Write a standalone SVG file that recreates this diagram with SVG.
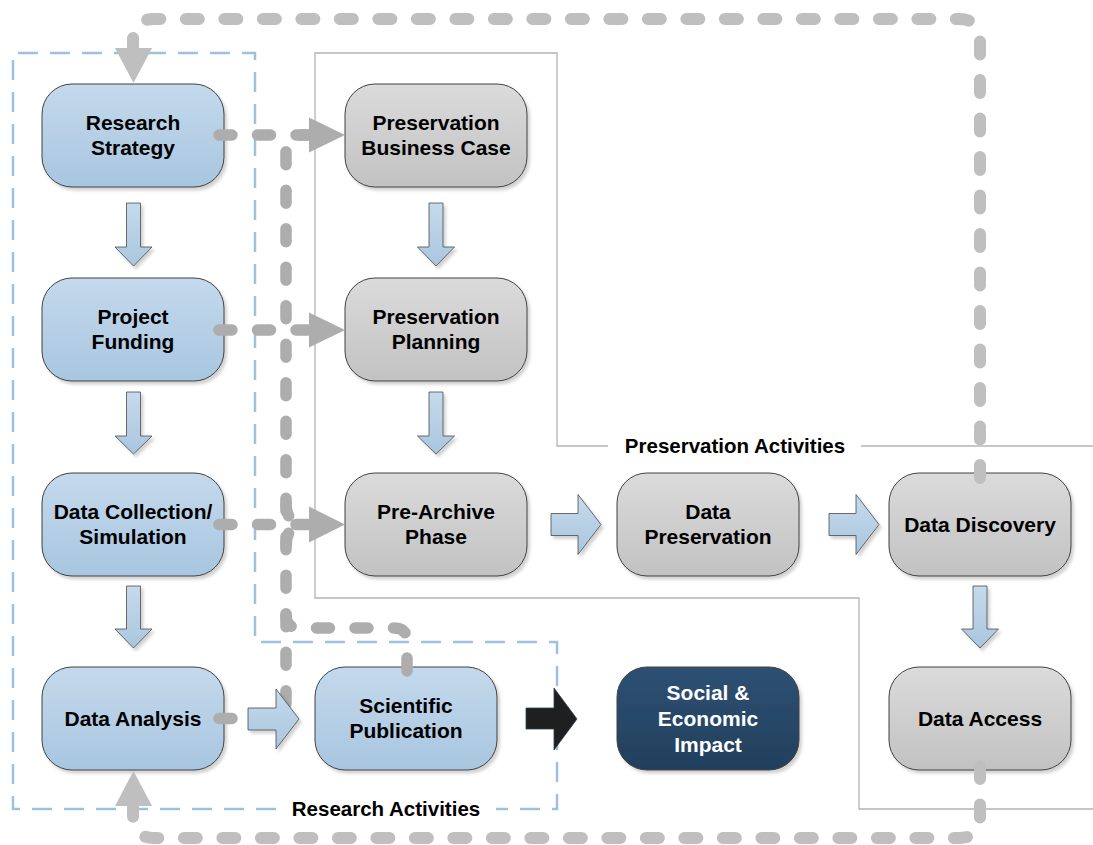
<svg xmlns="http://www.w3.org/2000/svg" width="1093" height="845" viewBox="0 0 1093 845">
<defs>
<linearGradient id="gBlue" x1="0" y1="0" x2="0" y2="1"><stop offset="0" stop-color="#c4d9ec"/><stop offset="1" stop-color="#a8c6e0"/></linearGradient>
<linearGradient id="gGray" x1="0" y1="0" x2="0" y2="1"><stop offset="0" stop-color="#dbdbdb"/><stop offset="1" stop-color="#c2c2c2"/></linearGradient>
<linearGradient id="gDark" x1="0" y1="0" x2="0" y2="1"><stop offset="0" stop-color="#2d5174"/><stop offset="1" stop-color="#223f5c"/></linearGradient>
<linearGradient id="gArrow" x1="0" y1="0" x2="0" y2="1"><stop offset="0" stop-color="#c6daec"/><stop offset="1" stop-color="#a9c6df"/></linearGradient>
<filter id="sh" x="-10%" y="-10%" width="125%" height="130%"><feDropShadow dx="2.5" dy="3" stdDeviation="1.5" flood-color="#000" flood-opacity="0.18"/></filter>
</defs>
<style>
.box{stroke:#404040;stroke-width:1;filter:url(#sh)}
.blue{fill:url(#gBlue)}
.gray{fill:url(#gGray)}
.dark{fill:url(#gDark)}
.t{font-family:"Liberation Sans",Arial,sans-serif;font-weight:bold;font-size:21px;text-anchor:middle;fill:#000}
.tw{fill:#fff}
.lbl{font-family:"Liberation Sans",Arial,sans-serif;font-weight:bold;font-size:20.5px;text-anchor:middle;fill:#000}
.loop{fill:none;stroke:#bfbfbf;stroke-width:12;stroke-linecap:round;stroke-dasharray:13 25.5}
.inner{fill:none;stroke:#adadad;stroke-width:11.5;stroke-linecap:round;stroke-dasharray:13 25.5}
.ahL{fill:#bfbfbf}
.ahI{fill:#adadad}
.barr{fill:url(#gArrow);stroke:#4a4a4a;stroke-width:0.8;filter:url(#sh)}
.karr{fill:#1f1f1f;stroke:#2b3f55;stroke-width:0.8}
.resc{fill:none;stroke:#9fc0de;stroke-width:2.5;stroke-dasharray:20 12}
.presc{fill:none;stroke:#b4b4b4;stroke-width:1.3}
</style>

<g id="containers">
<path class="presc" d="M608,446 H557 V53 H315 V598 H859 V809 H1093"/>
<path class="presc" d="M861,446 H1093"/>
<path class="resc" d="M276,809 H13 V53 H255 V642 H557 V809 H496"/>
<text class="lbl" x="735" y="453">Preservation Activities</text>
<text class="lbl" x="386" y="816">Research Activities</text>
</g>

<g id="n-research-strategy"><rect class="box blue" x="42" y="84" width="182" height="103" rx="30"/><text class="t" x="133" y="129.5">Research</text><text class="t" x="133" y="154.5">Strategy</text></g>
<g id="n-project-funding"><rect class="box blue" x="42" y="278" width="182" height="103" rx="30"/><text class="t" x="133" y="323.5">Project</text><text class="t" x="133" y="348.5">Funding</text></g>
<g id="n-data-collection"><rect class="box blue" x="42" y="473" width="182" height="103" rx="30"/><text class="t" x="133" y="518.5">Data Collection/</text><text class="t" x="133" y="543.5">Simulation</text></g>
<g id="n-data-analysis"><rect class="box blue" x="42" y="667" width="182" height="103" rx="30"/><text class="t" x="133" y="726">Data Analysis</text></g>
<g id="n-scientific-publication"><rect class="box blue" x="315" y="667" width="182" height="103" rx="30"/><text class="t" x="406" y="712.5">Scientific</text><text class="t" x="406" y="737.5">Publication</text></g>
<g id="n-social-impact"><rect class="box dark" x="617" y="667" width="182" height="103" rx="30"/><text class="t tw" x="708" y="700">Social &amp;</text><text class="t tw" x="708" y="726">Economic</text><text class="t tw" x="708" y="751.5">Impact</text></g>
<g id="n-preservation-business-case"><rect class="box gray" x="345" y="84" width="182" height="103" rx="30"/><text class="t" x="436" y="129.5">Preservation</text><text class="t" x="436" y="154.5">Business Case</text></g>
<g id="n-preservation-planning"><rect class="box gray" x="345" y="278" width="182" height="103" rx="30"/><text class="t" x="436" y="323.5">Preservation</text><text class="t" x="436" y="348.5">Planning</text></g>
<g id="n-pre-archive"><rect class="box gray" x="345" y="473" width="182" height="103" rx="30"/><text class="t" x="436" y="518.5">Pre-Archive</text><text class="t" x="436" y="543.5">Phase</text></g>
<g id="n-data-preservation"><rect class="box gray" x="617" y="473" width="182" height="103" rx="30"/><text class="t" x="708" y="518.5">Data</text><text class="t" x="708" y="543.5">Preservation</text></g>
<g id="n-data-discovery"><rect class="box gray" x="889" y="473" width="182" height="103" rx="30"/><text class="t" x="980" y="532">Data Discovery</text></g>
<g id="n-data-access"><rect class="box gray" x="889" y="667" width="182" height="103" rx="30"/><text class="t" x="980" y="726">Data Access</text></g>

<g id="connectors">
<path class="loop" d="M980,478 V40 Q980,19 959,19 H154 Q133,19 133,40 V50"/>
<polygon class="ahL" points="115,48 152,48 133.5,83"/>
<path class="loop" d="M980,766 V817 Q980,838 959,838 H154 Q133,838 133,817 V806"/>
<polygon class="ahL" points="115,806 152,806 133.5,771"/>
<path class="inner" d="M219,135 H308"/>
<path class="inner" d="M219,330 H308"/>
<path class="inner" d="M219,524.5 H308"/>
<path class="inner" d="M219,718.5 H274 Q286,718.5 286,706 V148 Q286,135 299,135 H308"/>
<path class="inner" d="M407,671 V641 Q407,628 394,628 H299 Q286,628 286,615"/>
<path class="inner" d="M286,503 Q286,524.5 306,524.5"/>
<path class="inner" d="M286,546 Q286,524.5 306,524.5"/>
<polygon class="ahI" points="309,117.5 345,135 309,152.5"/>
<polygon class="ahI" points="309,312.5 345,330 309,347.5"/>
<polygon class="ahI" points="309,506.5 345,524.5 309,542.5"/>
</g>

<g id="flow-arrows">
<polygon class="barr" points="126.5,203 140.5,203 140.5,247 152,247 133.5,266 115,247 126.5,247"/>
<polygon class="barr" points="126.5,392 140.5,392 140.5,436 152,436 133.5,454 115,436 126.5,436"/>
<polygon class="barr" points="126.5,586 140.5,586 140.5,629 152,629 133.5,648 115,629 126.5,629"/>
<polygon class="barr" points="429,203 443,203 443,247 454.5,247 436,266 417.5,247 429,247"/>
<polygon class="barr" points="429,392 443,392 443,436 454.5,436 436,454 417.5,436 429,436"/>
<polygon class="barr" points="973,586 987,586 987,629 998.5,629 980,648 961.5,629 973,629"/>
<polygon class="barr" points="551,513.5 578,513.5 578,494.5 601,524.5 578,554.5 578,535.5 551,535.5"/>
<polygon class="barr" points="829,513.5 856,513.5 856,494.5 879,524.5 856,554.5 856,535.5 829,535.5"/>
<polygon class="barr" points="248,708 276,708 276,689 299,719 276,749 276,730 248,730"/>
<polygon class="karr" points="526,708 554,708 554,688 577,719 554,750 554,729 526,729"/>
</g>
</svg>
